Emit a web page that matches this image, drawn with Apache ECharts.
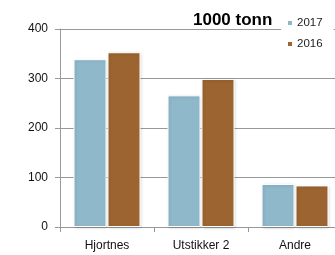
<!DOCTYPE html>
<html><head><meta charset="utf-8">
<script src="https://cdn.jsdelivr.net/npm/echarts@6/dist/echarts.min.js"></script>
<style>html,body{margin:0;padding:0;background:#fff}#c{width:335px;height:255px}</style>
</head><body><div id="c"></div>
<script>
var categories = ['Hjortnes', 'Utstikker 2', 'Andre'];
var s2017 = [339, 266, 87];
var s2016 = [353, 299, 84];
var yTicks = [0, 100, 200, 300, 400];
var unitTitle = '1000 tonn';

var chart = echarts.init(document.getElementById('c'), null, {renderer: 'canvas'});
var font = 'Liberation Sans, Arial, sans-serif';
chart.setOption({
  animation: false,
  textStyle: {fontFamily: font},
  title: {text: unitTitle, left: 193, top: 12, padding: 0,
    textStyle: {fontSize: 17, fontWeight: 'bold', color: '#000', fontFamily: font}},
  legend: {
    data: ['2017', '2016'], orient: 'vertical', left: 281, top: 14,
    itemWidth: 6, itemHeight: 6, itemGap: 9, icon: 'rect',
    backgroundColor: '#fff', padding: [3, 11, 3, 5],
    textStyle: {fontSize: 11.5, color: '#222', fontFamily: font, padding: [0, 0, 0, -1]}
  },
  grid: {left: 60, top: 29, width: 282, height: 198, containLabel: false, outerBoundsMode: 'none'},
  xAxis: {
    type: 'category', data: categories,
    axisLine: {lineStyle: {color: '#999', width: 1}},
    axisTick: {show: true, length: 5, lineStyle: {color: '#999'}},
    axisLabel: {fontSize: 12, color: '#111', margin: 13, fontFamily: font}
  },
  yAxis: {
    type: 'value', min: yTicks[0], max: yTicks[yTicks.length - 1], interval: 100,
    axisLine: {show: true, lineStyle: {color: '#999', width: 1}},
    axisTick: {show: true, length: 5, lineStyle: {color: '#999'}},
    splitLine: {lineStyle: {color: '#999', width: 1}},
    axisLabel: {fontSize: 12, color: '#111', margin: 12, fontFamily: font}
  },
  series: [
    {name: '2017', type: 'bar', data: s2017, barWidth: 33, barGap: '3%',
      itemStyle: {color: '#8FB8CB', borderColor: '#fff', borderWidth: 1,
        shadowColor: 'rgba(0,0,0,0.15)', shadowBlur: 3, shadowOffsetX: 1, shadowOffsetY: 1}},
    {name: '2016', type: 'bar', data: s2016, barWidth: 33,
      itemStyle: {color: '#9C6430', borderColor: '#fff', borderWidth: 1,
        shadowColor: 'rgba(0,0,0,0.15)', shadowBlur: 3, shadowOffsetX: 1, shadowOffsetY: 1}}
  ]
});
</script></body></html>
